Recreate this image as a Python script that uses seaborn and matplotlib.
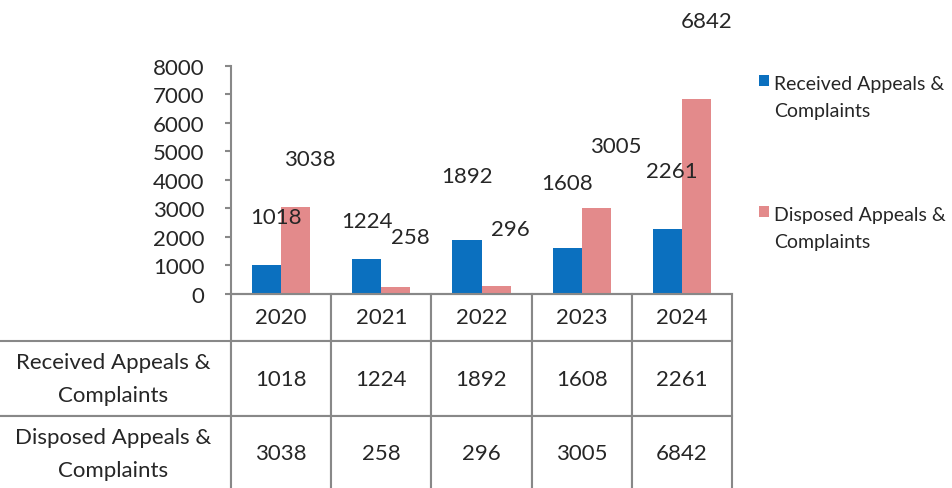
import pandas as pd
import matplotlib
matplotlib.use('Agg')
import matplotlib.pyplot as plt
import seaborn as sns

# Data
years = ['2020', '2021', '2022', '2023', '2024']
received = [1018, 1224, 1892, 1608, 2261]
disposed = [3038, 258, 296, 3005, 6842]
series_names = ['Received Appeals &\nComplaints', 'Disposed Appeals &\nComplaints']
colors = ['#0B70BF', '#E38A8B']

# Where the data labels sit relative to the top of each bar (pixels)
label_offsets = [
    [(9, 48), (0, 38), (0, 64), (0, 65), (4, 58)],
    [(14, 48), (15, 50), (14, 57), (20, 62), (10, 78)],
]

df = pd.DataFrame({
    'year': years * 2,
    'value': received + disposed,
    'series': [series_names[0]] * len(years) + [series_names[1]] * len(years),
})

sns.set_style('white')
plt.rcParams['font.family'] = ['Lato', 'DejaVu Sans']
grey = '#888888'
fs = 16

fig = plt.figure(figsize=(9.52, 4.89), dpi=100)
ax_w, ax_h = 501, 295 - 66.7  # axes size in pixels
ax = fig.add_axes([231 / 952, 1 - 295 / 489, ax_w / 952, ax_h / 489])

sns.barplot(data=df, x='year', y='value', hue='series', palette=colors,
            width=0.58, gap=0, linewidth=0, saturation=1, ax=ax)

ax.set_ylim(0, 8000)
ax.set_yticks(range(0, 8001, 1000))
ax.set_xlim(-0.5, len(years) - 0.5)
ax.set_xlabel('')
ax.set_ylabel('')
ax.set_xticks([])
ax.tick_params(axis='y', left=True, direction='out', length=4, width=1.5,
               color=grey, pad=15, labelsize=fs)
for side in ['top', 'right']:
    ax.spines[side].set_visible(False)
for side in ['left', 'bottom']:
    ax.spines[side].set_color(grey)
    ax.spines[side].set_linewidth(1.5)

# Data labels
for cont, offs in zip(ax.containers, label_offsets):
    for bar, (dx, dy) in zip(cont, offs):
        v = bar.get_height()
        ax.annotate(f'{int(round(v))}', xy=(bar.get_x() + bar.get_width() / 2, v),
                    xytext=(dx, dy), textcoords='offset pixels',
                    ha='center', va='center', fontsize=fs, annotation_clip=False)

# Legend on the right
handles, labels = ax.get_legend_handles_labels()
ax.get_legend().remove()
leg = fig.legend(handles, labels, loc='upper left', bbox_to_anchor=(749 / 952, 1 - 66 / 489),
                 frameon=False, fontsize=14, handlelength=0.55, handleheight=0.55,
                 handletextpad=0.25, labelspacing=4.45, borderpad=0)
for t in leg.get_texts():
    t.set_linespacing(1.75)
for col in leg._legend_handle_box.get_children():
    for row in col.get_children():
        row.align = 'top'

# Data table under the plot
cell_text = [[str(v) for v in received], [str(v) for v in disposed]]
tab = ax.table(cellText=cell_text, rowLabels=series_names, colLabels=years,
               cellLoc='center', rowLoc='center', colLoc='center', loc='bottom')
tab.auto_set_font_size(False)
tab.set_fontsize(fs)
for (r, c), cell in tab.get_celld().items():
    cell.set_edgecolor(grey)
    cell.set_linewidth(1.5)
    cell.set_height((47 if r == 0 else 75) / ax_h)
    cell.set_width((221.4 if c == -1 else 100.2) / ax_w)
    cell.get_text().set_linespacing(1.85)

fig.savefig('out.png', dpi=100)
